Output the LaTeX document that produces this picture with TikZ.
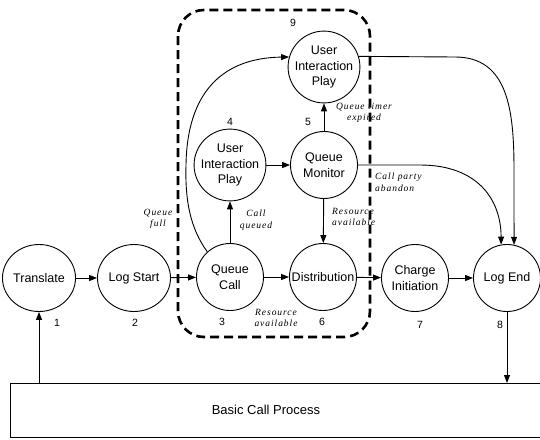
\documentclass[tikz,border=0pt]{standalone}
\usepackage{fontspec}
\setmainfont{Liberation Sans}
\newfontfamily\edgefont[LetterSpace=10]{Liberation Serif}
\usetikzlibrary{arrows.meta,shapes.geometric}

\begin{document}
\begin{tikzpicture}[x=1pt,y=-1pt,
  state/.style={circle,draw,line width=0.9pt,minimum size=67pt,inner sep=0pt,
    align=center,font=\fontsize{12.5}{15.5}\selectfont},
  wide/.style={ellipse,minimum width=73pt,minimum height=67pt},
  arr/.style={line width=0.9pt,-{Triangle[length=8pt,width=6pt]}},
  lbl/.style={font=\fontsize{9.5}{11.5}\selectfont\edgefont\itshape,inner sep=0pt},
  num/.style={font=\fontsize{10.5}{12}\selectfont,inner sep=0pt},
]
\useasboundingbox (0,0) rectangle (540,439);

% states of the call
\node[state,wide] (T)  at (39,278)  {Translate};
\node[state,wide] (LS) at (134,278) {Log Start};
\node[state] (QC)   at (230,277) {Queue\\Call};
\node[state] (D)    at (323,277) {Distribution};
\node[state] (CI)   at (415,278) {Charge\\Initiation};
\node[state] (LE)   at (507,278) {Log End};
\node[state] (UIP4) at (230,165) {User\\Interaction\\Play};
\node[state] (QM)   at (324,165) {Queue\\Monitor};
\node[state] (UIP9) at (324,67)  {User\\Interaction\\Play};

% state numbers
\node[num] (n1) at (57,323)  {1};
\node[num] (n2) at (135,323) {2};
\node[num] (n3) at (222,322) {3};
\node[num] (n6) at (322,322) {6};
\node[num] (n7) at (420,325) {7};
\node[num] (n8) at (500,325) {8};
\node[num] (n4) at (230,122) {4};
\node[num] (n5) at (308,122) {5};
\node[num] (n9) at (293,23)  {9};

% basic call process
\coordinate (Btop) at (0,383);
\draw[line width=0.9pt] (548,383) -| (10,437) -- (548,437);
\node[font=\fontsize{13}{15}\selectfont] (B) at (266,410) {Basic Call Process};

% main flow
\draw[arr] (T.south |- Btop) -- (T.south);
\draw[arr] (T) -- (LS);
\draw[arr] (LS) -- (QC);
\draw[arr] (QC) -- (D);
\draw[arr] (D) -- (CI);
\draw[arr] (CI) -- (LE);
\draw[arr] (LE.south) -- (LE.south |- Btop);

% queueing
\draw[arr] (QC) -- (UIP4);
\draw[arr] (UIP4) -- (QM);
\draw[arr] (QM) -- (UIP9);
\draw[arr] (QM) -- (D);
\draw[arr] (QC.132) .. controls (190,228) and (185,200) .. (186,165)
  .. controls (187,95) and (220,58) .. (UIP9.164);
\draw[arr] (UIP9.17) -- (455,57) .. controls (508,57) and (514,110) .. (514,170) -- (LE.78);
\draw[arr] (QM.east) -- (420,165) .. controls (478,165) and (501,200) .. (LE.100);

% transition labels
\node[lbl,align=center] (lq) at (158,219) {Queue\\full};
\node[lbl,align=center] (lc) at (256,220) {Call\\queued};
\node[lbl,align=center] (lt) at (364,113) {Queue timer\\expired};
\node[lbl,align=left,anchor=west] (la) at (375,182) {Call party\\abandon};
\node[lbl,align=left,anchor=west] (lr) at (332,217) {Resource\\available};
\node[lbl,align=center] (lb) at (276,318) {Resource\\available};

% queueing feature boundary
\draw[line width=2.6pt,dash pattern=on 9pt off 5pt,rounded corners=26pt]
  (178,10) rectangle (370,337);
\end{tikzpicture}
\end{document}
